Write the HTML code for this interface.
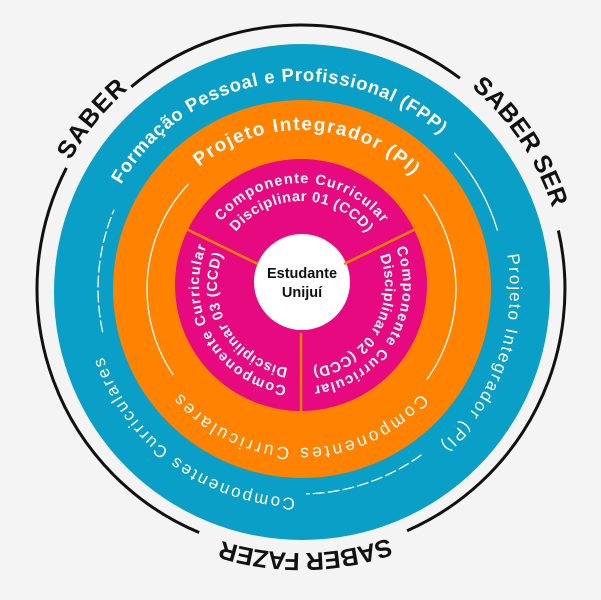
<!DOCTYPE html>
<html><head><meta charset="utf-8"><style>
html,body{margin:0;padding:0;background:#f4f4f4;}
svg{display:block;}
text{font-family:"Liberation Sans",Arial,sans-serif;}
</style></head><body>
<svg width="601" height="600" viewBox="0 0 601 600" xmlns="http://www.w3.org/2000/svg">
<defs>
<path id="p264" d="M565,289 A264,264 0 1 1 37,289 A264,264 0 1 1 565,289 A264,264 0 1 1 37,289 A264,264 0 1 1 565,289"/>
<path id="p208" d="M509,289 A208,208 0 1 1 93,289 A208,208 0 1 1 509,289 A208,208 0 1 1 93,289 A208,208 0 1 1 509,289"/>
<path id="p209" d="M510,289 A209,209 0 1 1 92,289 A209,209 0 1 1 510,289 A209,209 0 1 1 92,289 A209,209 0 1 1 510,289"/>
<path id="p159" d="M460,289 A159,159 0 1 1 142,289 A159,159 0 1 1 460,289 A159,159 0 1 1 142,289 A159,159 0 1 1 460,289"/>
<path id="p102" d="M403,285 A102,102 0 1 1 199,285 A102,102 0 1 1 403,285 A102,102 0 1 1 199,285 A102,102 0 1 1 403,285"/>
<path id="p84" d="M385,285 A84,84 0 1 1 217,285 A84,84 0 1 1 385,285 A84,84 0 1 1 217,285 A84,84 0 1 1 385,285"/>
</defs>
<rect width="601" height="600" fill="#f4f4f4"/>
<circle cx="302" cy="292" r="248" fill="#0a9fc6"/>
<circle cx="302" cy="289" r="189" fill="#ff8200"/>
<circle cx="301" cy="285" r="126" fill="#e6097f"/>
<circle cx="302" cy="282" r="48" fill="#ffffff"/>
<g stroke="#ff8200" stroke-width="2.5">
<line x1="257.9" y1="264" x2="187.8" y2="229.8"/>
<line x1="344.1" y1="264" x2="414.2" y2="229.8"/>
<line x1="301" y1="333" x2="301" y2="411"/>
</g>
<g fill="none" stroke="#111" stroke-width="3">
<path d="M131.3,86.8 A264,264 0 0 1 459.9,78.2"/>
<path d="M558.4,230.5 A264,264 0 0 1 407.1,530.7"/>
<path d="M199.1,532.5 A264,264 0 0 1 66.4,167.9"/>
</g>
<g fill="none" stroke="#fff" stroke-width="1.3">
<path d="M454.3,152.9 A205,205 0 0 1 497.5,230.4"/>
<path d="M102.7,332.2 A203,203 0 0 1 114.1,209.7" stroke-dasharray="12 3"/>
<path d="M421.5,454.8 A205,205 0 0 1 306,493.9" stroke-dasharray="12 3"/>
<path d="M173.3,375.1 A154,154 0 0 1 188.4,184"/>
<path d="M423.6,194.2 A155,155 0 0 1 426.9,379.4"/>
</g>
<g font-weight="bold" font-size="25" fill="#111" text-anchor="middle">
<text><textPath href="#p264" startOffset="1009.1" textLength="92" lengthAdjust="spacing">SABER</textPath></text>
<text><textPath href="#p264" startOffset="1502.1" textLength="147" lengthAdjust="spacing">SABER SER</textPath></text>
<text><textPath href="#p264" startOffset="410.1" textLength="170" lengthAdjust="spacing">SABER FAZER</textPath></text>
</g>
<g fill="#fff" text-anchor="middle">
<text font-size="18.5" font-weight="bold"><textPath href="#p208" startOffset="947.5" textLength="370" lengthAdjust="spacing">Formação Pessoal e Profissional (FPP)</textPath></text>
<text font-size="17"><textPath href="#p209" startOffset="1383.2" textLength="210" lengthAdjust="spacing">Projeto Integrador (PI)</textPath></text>
<text font-size="17"><textPath href="#p209" startOffset="460.7" textLength="253" lengthAdjust="spacing">Componentes Curriculares</textPath></text>
<text font-size="19" font-weight="bold"><textPath href="#p159" startOffset="755.5" textLength="234" lengthAdjust="spacing">Projeto Integrador (PI)</textPath></text>
<text font-size="17.5"><textPath href="#p159" startOffset="249.8" textLength="272" lengthAdjust="spacing">Componentes Curriculares</textPath></text>
<g font-size="14.5" font-weight="bold">
<text><textPath href="#p102" startOffset="480.7" textLength="185" lengthAdjust="spacing">Componente Curricular</textPath></text>
<text><textPath href="#p84" startOffset="395.8" textLength="150" lengthAdjust="spacing">Disciplinar 01 (CCD)</textPath></text>
<text><textPath href="#p102" startOffset="694.3" textLength="185" lengthAdjust="spacing">Componente Curricular</textPath></text>
<text><textPath href="#p84" startOffset="571.8" textLength="150" lengthAdjust="spacing">Disciplinar 02 (CCD)</textPath></text>
<text><textPath href="#p102" startOffset="267" textLength="185" lengthAdjust="spacing">Componente Curricular</textPath></text>
<text><textPath href="#p84" startOffset="219.9" textLength="150" lengthAdjust="spacing">Disciplinar 03 (CCD)</textPath></text>
</g>
</g>
<g font-weight="bold" font-size="14.5" fill="#111" text-anchor="middle">
<text x="302" y="278">Estudante</text>
<text x="302" y="297">Unijuí</text>
</g>
</svg>
</body></html>
